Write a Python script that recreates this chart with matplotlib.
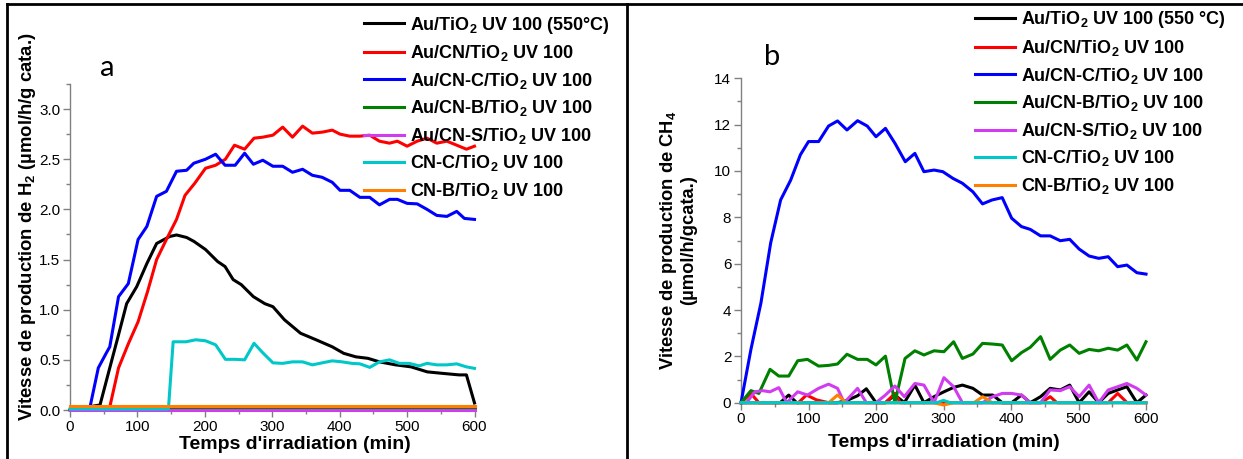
import matplotlib
matplotlib.use("Agg")
import matplotlib.pyplot as plt
from matplotlib.ticker import MultipleLocator, FormatStrFormatter
from matplotlib.lines import Line2D

plt.rcParams['font.family'] = ['Liberation Sans', 'DejaVu Sans']
plt.rcParams['mathtext.fontset'] = 'custom'
plt.rcParams['mathtext.rm'] = 'Liberation Sans:bold'
plt.rcParams['mathtext.bf'] = 'Liberation Sans:bold'
plt.rcParams['mathtext.default'] = 'rm'

labels_a = [r'Au/TiO$_2$ UV 100 (550°C)', r'Au/CN/TiO$_2$ UV 100', r'Au/CN-C/TiO$_2$ UV 100',
            r'Au/CN-B/TiO$_2$ UV 100', r'Au/CN-S/TiO$_2$ UV 100', r'CN-C/TiO$_2$ UV 100',
            r'CN-B/TiO$_2$ UV 100']
labels_b = [r'Au/TiO$_2$ UV 100 (550 °C)'] + labels_a[1:]
colors = ['black', '#ff0000', '#0000ff', '#008000', '#d23cf0', '#00c8c8', '#ff8000']

# ---- panel a : H2 ----
t_black_a = [0, 44.5, 59, 72, 84, 99, 114, 128.5, 148, 158, 173, 184, 201, 219, 230, 242, 254, 272, 289, 301,
             318, 342, 365, 389, 406, 424, 442, 459, 483, 506, 530, 553, 577, 588, 600]
v_black_a = [0.0, 0.05, 0.42, 0.75, 1.06, 1.23, 1.46, 1.66, 1.73, 1.745, 1.72, 1.68, 1.60, 1.48, 1.43, 1.30, 1.25,
             1.13, 1.06, 1.03, 0.90, 0.765, 0.70, 0.63, 0.565, 0.53, 0.515, 0.48, 0.45, 0.43, 0.38, 0.365, 0.35,
             0.35, 0.07]
t_red_a = [59, 72, 86.5, 101, 115, 128.5, 143, 158, 170.6, 185, 201, 216, 230.5, 244, 259, 273, 286, 301, 315.5,
           330, 345, 359.5, 374, 389, 400.6, 415, 430, 444.6, 459, 474, 485.6, 500, 515, 529.6, 544, 559, 573.6,
           588, 600]
v_red_a = [0.03, 0.42, 0.66, 0.88, 1.18, 1.50, 1.70, 1.90, 2.14, 2.26, 2.41, 2.44, 2.50, 2.64, 2.60, 2.71, 2.72,
           2.74, 2.82, 2.72, 2.83, 2.76, 2.77, 2.79, 2.75, 2.73, 2.73, 2.74, 2.68, 2.66, 2.68, 2.63, 2.68, 2.71,
           2.66, 2.68, 2.64, 2.60, 2.63]
t_blue_a = [29.7, 42, 54, 59, 72, 86.5, 101, 114, 128.5, 143, 158, 173, 183.6, 201, 216, 230, 245, 259, 272, 286,
            301, 315.5, 330, 345, 359.5, 374, 389, 400.6, 415, 430, 444.6, 459, 474, 485.6, 500, 515, 529.6, 544,
            559, 573.6, 585, 600]
v_blue_a = [0.03, 0.42, 0.57, 0.63, 1.13, 1.26, 1.70, 1.83, 2.13, 2.18, 2.38, 2.39, 2.46, 2.50, 2.55, 2.44, 2.44,
            2.56, 2.45, 2.49, 2.43, 2.43, 2.37, 2.40, 2.34, 2.32, 2.27, 2.19, 2.19, 2.12, 2.12, 2.045, 2.10, 2.10,
            2.06, 2.055, 2.00, 1.94, 1.93, 1.98, 1.91, 1.90]
t_green_a = [0, 600]
v_green_a = [0.02, 0.02]
t_mag_a = [0, 600]
v_mag_a = [0.0, 0.0]
t_cyan_a = [0, 146, 153, 172, 186.5, 201, 216, 230.5, 245, 259, 273, 286, 301, 315.5, 330, 345, 359.5, 374, 389,
            403.5, 418, 430, 444.6, 459, 474, 488.5, 503, 518, 529.6, 544, 559, 573.6, 588, 600]
v_cyan_a = [0.01, 0.01, 0.68, 0.68, 0.70, 0.69, 0.65, 0.505, 0.505, 0.50, 0.665, 0.57, 0.47, 0.465, 0.48, 0.48,
            0.45, 0.47, 0.49, 0.48, 0.465, 0.46, 0.425, 0.48, 0.50, 0.465, 0.465, 0.44, 0.465, 0.45, 0.45, 0.46,
            0.43, 0.415]
t_orange_a = [0, 600]
v_orange_a = [0.035, 0.035]

# ---- panel b : CH4 ----
t_black_b = [0, 58, 70.7, 82.5, 143, 157, 172.7, 185.7, 200, 214, 228, 242, 257.6, 271, 286, 300.6, 315, 328,
             343.6, 357.8, 373, 387, 401, 415.5, 428.5, 443.8, 458, 473, 487, 501, 515.7, 530, 544, 558, 571.7,
             586.5, 600]
v_black_b = [0, 0, 0.33, 0, 0, 0.1, 0.3, 0.6, 0, 0, 0.33, 0, 0.76, 0, 0.26, 0.47, 0.66, 0.76, 0.62, 0.33, 0.33,
             0, 0, 0.33, 0, 0.26, 0.62, 0.55, 0.76, 0, 0.47, 0, 0.4, 0.55, 0.69, 0, 0.33]
t_red_b = [0, 14.7, 26.5, 85, 97, 112, 130, 214, 228, 236, 445, 458, 468, 544, 558, 572, 600]
v_red_b = [0, 0.4, 0, 0, 0.33, 0.12, 0, 0, 0.4, 0, 0, 0.26, 0, 0, 0.4, 0, 0]
t_blue_b = [0, 14.7, 29.5, 44, 58.7, 73.5, 88, 100, 115, 129.7, 143, 157, 172.7, 187, 200, 214, 228, 243.4,
            257.6, 271, 286, 299, 314, 328, 343.6, 357.8, 372, 387, 401, 415.5, 428.5, 443.8, 458, 473, 487, 501,
            515.7, 530, 544, 558, 571.7, 586.5, 600]
v_blue_b = [0, 2.3, 4.3, 6.9, 8.75, 9.6, 10.7, 11.27, 11.27, 11.94, 12.16, 11.77, 12.17, 11.94, 11.48, 11.84,
            11.2, 10.4, 10.76, 9.97, 10.04, 9.97, 9.68, 9.47, 9.1, 8.58, 8.75, 8.85, 7.96, 7.6, 7.48, 7.2, 7.2,
            6.99, 7.05, 6.63, 6.33, 6.23, 6.3, 5.87, 5.94, 5.61, 5.55]
t_green_b = [0, 14.7, 26.5, 43, 56, 70.7, 84, 98.4, 115, 129.7, 143, 157, 172.7, 187, 200, 214, 228, 243, 257.6,
             271, 286, 300.6, 315, 328, 343.6, 357.8, 373, 387, 401, 415.5, 428.5, 443.8, 458, 473, 487, 501,
             515.7, 530, 544, 558, 571.7, 586.5, 600]
v_green_b = [0, 0.52, 0.4, 1.44, 1.15, 1.15, 1.81, 1.87, 1.58, 1.61, 1.67, 2.09, 1.87, 1.87, 1.63, 2.01, 0.0,
             1.91, 2.24, 2.06, 2.24, 2.2, 2.63, 1.91, 2.1, 2.56, 2.53, 2.49, 1.81, 2.16, 2.39, 2.85, 1.87, 2.27,
             2.49, 2.13, 2.3, 2.24, 2.35, 2.27, 2.49, 1.84, 2.63]
t_mag_b = [0, 8, 20.6, 32, 43, 56, 67.8, 84, 98.4, 115, 129.7, 143, 153, 172.7, 185.7, 200, 214, 228, 242, 257.6,
           271, 286, 300.6, 315, 328, 343.6, 357.8, 373, 387, 401, 415.5, 428.5, 443.8, 458, 473, 487, 501, 515.7,
           530, 544, 558, 571.7, 586.5, 600]
v_mag_b = [0, 0, 0.47, 0.52, 0.47, 0.65, 0, 0.47, 0.33, 0.62, 0.8, 0.62, 0, 0.62, 0, 0, 0.33, 0.72, 0.26, 0.83,
           0.76, 0, 1.08, 0.69, 0, 0, 0, 0.26, 0.4, 0.4, 0.33, 0, 0, 0.55, 0.52, 0.69, 0.26, 0.76, 0, 0.55, 0.69,
           0.83, 0.62, 0.33]
t_cyan_b = [0, 290, 300, 310, 600]
v_cyan_b = [0, 0, 0.1, 0, 0]
t_orange_b = [0, 130, 143, 156, 285, 300, 315, 345, 358, 372, 600]
v_orange_b = [0, 0, 0.33, 0, 0, -0.1, 0, 0, 0.26, 0, 0]

series_a = [(t_black_a, v_black_a), (t_red_a, v_red_a), (t_blue_a, v_blue_a), (t_green_a, v_green_a),
            (t_mag_a, v_mag_a), (t_cyan_a, v_cyan_a), (t_orange_a, v_orange_a)]
series_b = [(t_black_b, v_black_b), (t_red_b, v_red_b), (t_blue_b, v_blue_b), (t_green_b, v_green_b),
            (t_mag_b, v_mag_b), (t_cyan_b, v_cyan_b), (t_orange_b, v_orange_b)]

W, H = 1243, 459
fig = plt.figure(figsize=(W / 100, H / 100), dpi=100)
axa = fig.add_axes([70 / W, (H - 410) / H, 404.5 / W, 326 / H])
axb = fig.add_axes([741 / W, (H - 402.7) / H, 405 / W, 324.4 / H])


def style(ax):
    for s in ['top', 'right']:
        ax.spines[s].set_visible(False)
    for s in ['left', 'bottom']:
        ax.spines[s].set_color('#808080')
        ax.spines[s].set_linewidth(1.0)
    ax.tick_params(which='major', direction='out', length=5, width=1, color='#808080',
                   labelsize=11, labelcolor='black', pad=2)
    ax.tick_params(which='minor', direction='out', length=3, width=1, color='#808080')
    ax.set_xlim(0, 600)
    ax.xaxis.set_major_locator(MultipleLocator(100))
    ax.xaxis.set_minor_locator(MultipleLocator(50))
    ax.set_xlabel("Temps d'irradiation (min)", fontsize=14, fontweight='bold')


zo_a = [3, 3, 3, 4, 4, 5, 6]
for (t, v), c, lab, z in zip(series_a, colors, labels_a, zo_a):
    axa.plot(t, v, color=c, lw=2.2, label=lab, zorder=z, clip_on=False)
style(axa)
axa.set_ylim(0, 3.25)
axa.yaxis.set_major_locator(MultipleLocator(0.5))
axa.yaxis.set_minor_locator(MultipleLocator(0.25))
axa.yaxis.set_major_formatter(FormatStrFormatter('%.1f'))
axa.set_ylabel(r'Vitesse de production de H$_2$ (µmol/h/g cata.)', fontsize=13.3, fontweight='bold')
axa.yaxis.set_label_coords(-0.08, 0.563)
axa.xaxis.set_label_coords(0.557, -0.08)
fig.text(107 / W, 1 - 68 / H, 'a', fontsize=21, family='Lato', ha='center', va='center')

zo_b = [3, 3, 3, 3, 3, 6, 5]
for (t, v), c, lab, z in zip(series_b, colors, labels_b, zo_b):
    axb.plot(t, v, color=c, lw=2.2, label=lab, zorder=z, clip_on=False)
style(axb)
axb.set_ylim(0, 14)
axb.yaxis.set_major_locator(MultipleLocator(2))
axb.yaxis.set_minor_locator(MultipleLocator(1))
axb.set_ylabel('Vitesse de production de CH$_4$\n(µmol/h/gcata.)', fontsize=13.2, fontweight='bold',
               linespacing=1.1)
axb.yaxis.set_label_coords(-0.108, 0.5)
axb.xaxis.set_label_coords(0.5, -0.098)
fig.text(772 / W, 1 - 57 / H, 'b', fontsize=21, family='Lato', ha='center', va='center')

leg_kw = dict(frameon=False, loc='upper left', borderpad=0, borderaxespad=0, handlelength=2.2,
              handletextpad=0.35, labelspacing=0.42, prop={'size': 13, 'weight': 'bold'})
fig.legend(*axa.get_legend_handles_labels(), bbox_to_anchor=(364 / W, 1 - 14.5 / H),
           bbox_transform=fig.transFigure, **leg_kw)
fig.legend(*axb.get_legend_handles_labels(), bbox_to_anchor=(975 / W, 1 - 9.5 / H),
           bbox_transform=fig.transFigure, **leg_kw)

# outer frame and divider of the composite figure
for xs, ys in [([7 / W, 1], [1 - 4 / H, 1 - 4 / H]), ([7 / W, 7 / W], [0, 1 - 4 / H]),
               ([627 / W, 627 / W], [0, 1 - 4 / H])]:
    fig.add_artist(Line2D(xs, ys, color='black', lw=2, transform=fig.transFigure))

fig.savefig('out.png', dpi=100)
